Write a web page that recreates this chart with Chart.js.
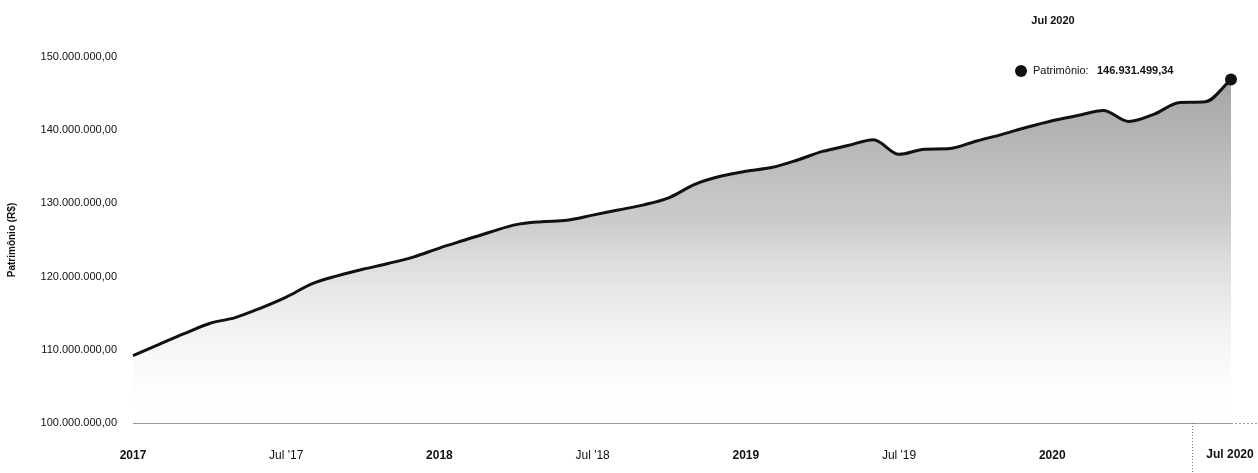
<!DOCTYPE html>
<html>
<head>
<meta charset="utf-8">
<script src="https://cdn.jsdelivr.net/npm/chart.js@4"></script>
<style>
  html, body { margin: 0; padding: 0; background: #fff; }
  #wrap { width: 1258px; height: 473px; position: relative; }
</style>
</head>
<body>
<div id="wrap"><canvas id="chart"></canvas></div>
<script>
// Patrimônio mensal (R$ milhões), jan/2017 .. jul/2020
const patrimonio = [
  109.2, 110.7, 112.2, 113.6, 114.4, 115.7, 117.2, 119.0, 120.1, 121.0, 121.8, 122.7,
  123.9, 125.0, 126.1, 127.1, 127.5, 127.7, 128.4, 129.1, 129.8, 130.8, 132.6, 133.7,
  134.4, 134.9, 135.9, 137.1, 137.9, 138.7, 136.7, 137.4, 137.5, 138.5, 139.4, 140.4,
  141.3, 142.0, 142.7, 141.2, 142.2, 143.8, 143.9, 146.93149934
]
const tickMonths = [0, 6, 12, 18, 24, 30, 36]
const tickLabels = ['2017', "Jul '17", '2018', "Jul '18", '2019', "Jul '19", '2020']
const yTicks = [100, 110, 120, 130, 140, 150]
const lastLabel = 'Jul 2020'
const seriesName = 'Patrimônio'

// formato brasileiro: 146.931.499,34
function fmtBRL(reais) {
  const [int, dec] = reais.toFixed(2).split('.')
  return int.replace(/\B(?=(\d{3})+(?!\d))/g, '.') + ',' + dec
}

const points = patrimonio.map((v, i) => ({ x: i, y: v }))
const lastIdx = points.length - 1

// tooltip fixo + rótulo do crosshair no eixo x
const fixedTooltip = {
  id: 'fixedTooltip',
  afterDraw(chart) {
    const { ctx } = chart
    const xs = chart.scales.x
    const px = xs.getPixelForValue(lastIdx)
    const bottom = chart.chartArea.bottom

    ctx.save()
    // eixo continua até a borda
    ctx.strokeStyle = '#999'
    ctx.setLineDash([2, 2])
    ctx.lineWidth = 1
    ctx.beginPath()
    ctx.moveTo(chart.chartArea.right, bottom + 0.5)
    ctx.lineTo(1258, bottom + 0.5)
    ctx.stroke()

    // caixa do rótulo no eixo x
    ctx.fillStyle = '#fff'
    ctx.fillRect(px - 38, bottom + 2, 80, 60)
    ctx.strokeStyle = '#777'
    ctx.setLineDash([1, 2])
    ctx.beginPath()
    ctx.moveTo(px - 38.5, bottom)
    ctx.lineTo(px - 38.5, 473)
    ctx.stroke()
    ctx.setLineDash([])
    ctx.fillStyle = '#111'
    ctx.font = 'bold 12px "Liberation Sans", Arial, sans-serif'
    ctx.textAlign = 'center'
    ctx.textBaseline = 'middle'
    ctx.fillText(lastLabel, px - 1, 455)

    // tooltip
    ctx.font = 'bold 11px "Liberation Sans", Arial, sans-serif'
    ctx.fillText(lastLabel, 1053, 21)
    ctx.beginPath()
    ctx.arc(1021, 71, 6, 0, Math.PI * 2)
    ctx.fill()
    ctx.textAlign = 'left'
    ctx.font = '11px "Liberation Sans", Arial, sans-serif'
    ctx.fillText(seriesName + ':', 1033, 71)
    ctx.font = 'bold 11px "Liberation Sans", Arial, sans-serif'
    ctx.fillText(fmtBRL(patrimonio[lastIdx] * 1e6), 1097, 71)
    ctx.restore()
  }
}

const ctx = document.getElementById('chart').getContext('2d')
new Chart(ctx, {
  type: 'line',
  data: {
    datasets: [{
      label: seriesName,
      data: points,
      borderColor: '#111',
      borderWidth: 3,
      cubicInterpolationMode: 'monotone',
      fill: 'start',
      backgroundColor(context) {
        const area = context.chart.chartArea
        if (!area) return 'rgba(150,150,150,0.5)'
        const g = context.chart.ctx.createLinearGradient(0, area.top, 0, area.bottom)
        g.addColorStop(0, 'rgba(105,105,105,0.65)')
        g.addColorStop(0.45, 'rgba(140,140,140,0.45)')
        g.addColorStop(0.85, 'rgba(220,220,220,0.15)')
        g.addColorStop(1, 'rgba(255,255,255,0)')
        return g
      },
      pointRadius: (c) => c.dataIndex === lastIdx ? 6 : 0,
      pointBackgroundColor: '#111',
      pointBorderWidth: 0,
      clip: false
    }]
  },
  options: {
    responsive: true,
    maintainAspectRatio: false,
    animation: false,
    layout: { padding: { top: 57, right: 27, left: 0, bottom: 0 } },
    plugins: {
      legend: { display: false },
      tooltip: { enabled: false }
    },
    scales: {
      x: {
        type: 'linear',
        min: 0,
        max: lastIdx,
        grid: { display: false, drawTicks: false },
        border: { display: true, color: '#999', dash: [2, 2], width: 1 },
        afterBuildTicks(scale) {
          scale.ticks = tickMonths.map(v => ({ value: v }))
        },
        afterFit(scale) { scale.height = 50 },
        ticks: {
          padding: 25,
          maxRotation: 0,
          autoSkip: false,
          color: '#111',
          font: (c) => {
            const i = tickMonths.indexOf(c.tick ? c.tick.value : -1)
            const bold = i >= 0 && !tickLabels[i].startsWith('Jul')
            return { family: '"Liberation Sans", Arial, sans-serif', size: 12, weight: bold ? 'bold' : 'normal' }
          },
          callback: (v) => {
            const i = tickMonths.indexOf(v)
            return i >= 0 ? tickLabels[i] : ''
          }
        }
      },
      y: {
        min: 100,
        max: 150,
        grid: { display: false, drawTicks: false },
        border: { display: false },
        afterBuildTicks(scale) {
          scale.ticks = yTicks.map(v => ({ value: v }))
        },
        afterFit(scale) { scale.width = 133 },
        title: {
          display: true,
          text: 'Patrimônio (R$)',
          color: '#111',
          font: { family: '"Liberation Sans", Arial, sans-serif', size: 10, weight: 'bold' },
          padding: { top: 6, bottom: 0 }
        },
        ticks: {
          padding: 16,
          color: '#111',
          font: { family: '"Liberation Sans", Arial, sans-serif', size: 11 },
          callback: (v) => fmtBRL(v * 1e6)
        }
      }
    }
  },
  plugins: [fixedTooltip]
})
</script>
</body>
</html>
